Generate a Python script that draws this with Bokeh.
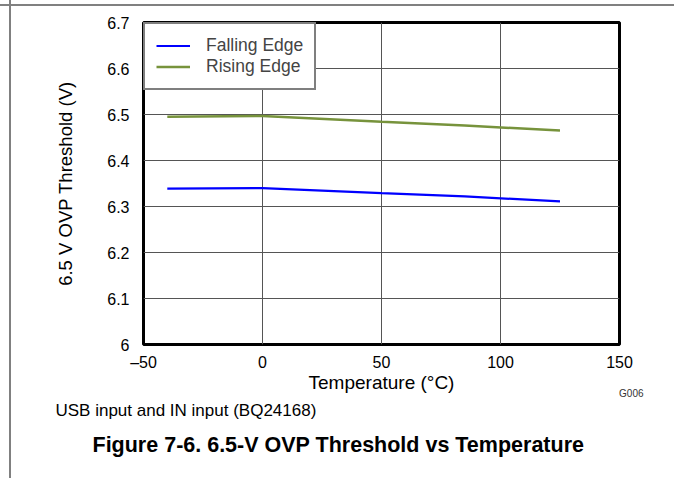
from bokeh.plotting import figure
from bokeh.models import FixedTicker, Legend, LegendItem, Title, Range1d, InlineStyleSheet
from bokeh.embed import file_html
from bokeh.resources import INLINE

# ---- data ----
temperature = [-40, 0, 50, 85, 125]
falling_edge = [6.339, 6.340, 6.329, 6.322, 6.311]
rising_edge = [6.495, 6.497, 6.484, 6.476, 6.465]

x_ticks = [-50, 0, 50, 100, 150]
x_tick_labels = ["\u201350", "0", "50", "100", "150"]
y_ticks = [6.0, 6.1, 6.2, 6.3, 6.4, 6.5, 6.6, 6.7]
y_tick_labels = ["6", "6.1", "6.2", "6.3", "6.4", "6.5", "6.6", "6.7"]

series_names = ["Falling Edge", "Rising Edge"]
x_label = "Temperature (\u00b0C)"
y_label = "6.5 V OVP Threshold (V)"
graph_id = "G006"
caption = "USB input and IN input (BQ24168)"
figure_title = "Figure 7-6. 6.5-V OVP Threshold vs Temperature"

FONT = "Liberation Sans"
W, H = 674, 478

p = figure(width=W, height=H,
           x_range=Range1d(x_ticks[0], x_ticks[-1]),
           y_range=Range1d(y_ticks[0], y_ticks[-1]),
           output_backend="svg", toolbar_location=None,
           min_border_left=143, min_border_right=55,
           min_border_top=22, min_border_bottom=134)

p.stylesheets = [InlineStyleSheet(css="""
:host { position: relative; overflow: visible; }
:host::before { content: ""; position: absolute; z-index: 20;
  left: 0px; top: 4px; width: 674px; height: 1.5px; background: #808080; }
:host::after { content: ""; position: absolute; z-index: 20;
  left: 9.3px; top: 0px; width: 1.5px; height: 478px; background: #808080; }
""")]

p.outline_line_color = "black"
p.outline_line_width = 3
p.background_fill_color = "white"
p.border_fill_color = "white"

for ax in (p.xaxis[0], p.yaxis[0]):
    ax.axis_line_color = None
    ax.major_tick_line_color = None
    ax.minor_tick_line_color = None
    ax.major_tick_out = 0
    ax.major_tick_in = 0
    ax.minor_tick_out = 0
    ax.minor_tick_in = 0
    ax.major_label_text_font = FONT
    ax.major_label_text_font_size = "16px"
    ax.major_label_text_color = "black"
    ax.axis_label_text_font = FONT
    ax.axis_label_text_font_style = "normal"
    ax.axis_label_text_color = "black"

p.xaxis.axis_label_text_font_size = "19px"
p.yaxis.axis_label_text_font_size = "18.5px"
p.xaxis.ticker = FixedTicker(ticks=x_ticks)
p.xaxis.major_label_overrides = dict(zip(x_ticks, x_tick_labels))
p.yaxis.ticker = FixedTicker(ticks=y_ticks)
p.yaxis.major_label_overrides = dict(zip(y_ticks, y_tick_labels))
p.xaxis.axis_label = x_label
p.yaxis.axis_label = y_label
p.xaxis.major_label_standoff = 9
p.xaxis.axis_label_standoff = -2
p.yaxis.major_label_standoff = 14
p.yaxis.axis_label_standoff = 28

p.xgrid.ticker = FixedTicker(ticks=x_ticks)
p.ygrid.ticker = FixedTicker(ticks=y_ticks)
for g in (p.xgrid[0], p.ygrid[0]):
    g.grid_line_color = "#555555"
    g.grid_line_width = 1

r_fall = p.line(temperature, falling_edge, line_color="#0000FF", line_width=2.2)
r_rise = p.line(temperature, rising_edge, line_color="#77933C", line_width=2.5)

legend = Legend(items=[LegendItem(label=series_names[0], renderers=[r_fall]),
                       LegendItem(label=series_names[1], renderers=[r_rise])],
                location="top_left", margin=0, padding=11, spacing=0,
                label_height=21, glyph_height=21, glyph_width=34,
                label_standoff=16, border_line_color="black",
                border_line_width=2, background_fill_alpha=1,
                label_text_font=FONT, label_text_font_size="17.5px")
p.add_layout(legend)

p.add_layout(Title(text=graph_id, align="right", offset=-24, standoff=-16,
                   vertical_align="top",
                   text_font=FONT, text_font_size="10px",
                   text_font_style="normal", text_color="#333333"), "below")
p.add_layout(Title(text=caption, align="left", offset=-88, standoff=7,
                   text_font=FONT, text_font_size="17px",
                   text_font_style="normal", text_color="black"), "below")
p.add_layout(Title(text=figure_title, align="left", offset=-51, standoff=15,
                   text_font=FONT, text_font_size="21.5px",
                   text_font_style="bold", text_color="black"), "below")

open("out.html", "w").write(file_html(p, INLINE))
